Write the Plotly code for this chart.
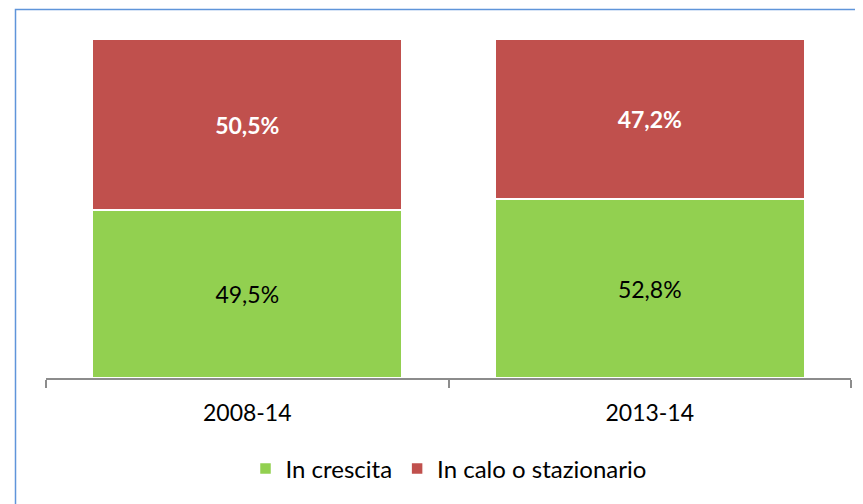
import plotly.graph_objects as go

categories = ["2008-14", "2013-14"]
crescita = [49.5, 52.8]
calo = [50.5, 47.2]
crescita_labels = ["49,5%", "52,8%"]
calo_labels = ["50,5%", "47,2%"]

FONT = "Lato"
# page body has an 8px margin; compensate so the chart lands where the reference is
OFF = 8
L, T = 46 - OFF, 39 - OFF
PW, PH = 805, 339
R = 863 - L - PW
B = 504 - T - PH

fig = go.Figure()
fig.add_trace(go.Bar(
    x=categories, y=crescita, name="In crescita",
    marker=dict(color="#92D050", line=dict(color="white", width=1.5)),
    text=crescita_labels, textposition="inside", insidetextanchor="middle",
    textfont=dict(family=FONT, size=23, color="black"),
    width=0.768,
))
fig.add_trace(go.Bar(
    x=categories, y=calo, name="In calo o stazionario",
    marker=dict(color="#C0504D", line=dict(color="white", width=1.5)),
    text=calo_labels, textposition="inside", insidetextanchor="middle",
    textfont=dict(family=FONT, size=23, color="white", weight="bold"),
    width=0.768,
))

fig.update_layout(
    barmode="stack",
    width=863, height=504,
    margin=dict(l=L, r=R, t=T, b=B, autoexpand=False),
    paper_bgcolor="white", plot_bgcolor="white",
    showlegend=True,
    legend=dict(orientation="h", x=0.50, xanchor="center", y=-0.268, yanchor="middle",
                font=dict(family=FONT, size=24, color="black"), traceorder="normal",
                itemwidth=30),
    xaxis=dict(type="category", range=[-0.5, 1.5], showline=True, linecolor="#8C8C8C",
               linewidth=1.5, ticks="outside", tickson="boundaries", ticklen=8,
               tickcolor="#8C8C8C", tickwidth=1.5, ticklabelstandoff=14,
               tickfont=dict(family=FONT, size=23, color="black"), showgrid=False),
    yaxis=dict(range=[0, 100], visible=False, showgrid=False),
    shapes=[dict(type="rect", xref="paper", yref="paper",
                 x0=(15.5 - 46) / PW, x1=1.2, y0=-0.6, y1=(378 - 9.5) / PH,
                 line=dict(color="#5F95DA", width=1.5), fillcolor="rgba(0,0,0,0)", layer="below")],
)

fig.write_html("out.html")
